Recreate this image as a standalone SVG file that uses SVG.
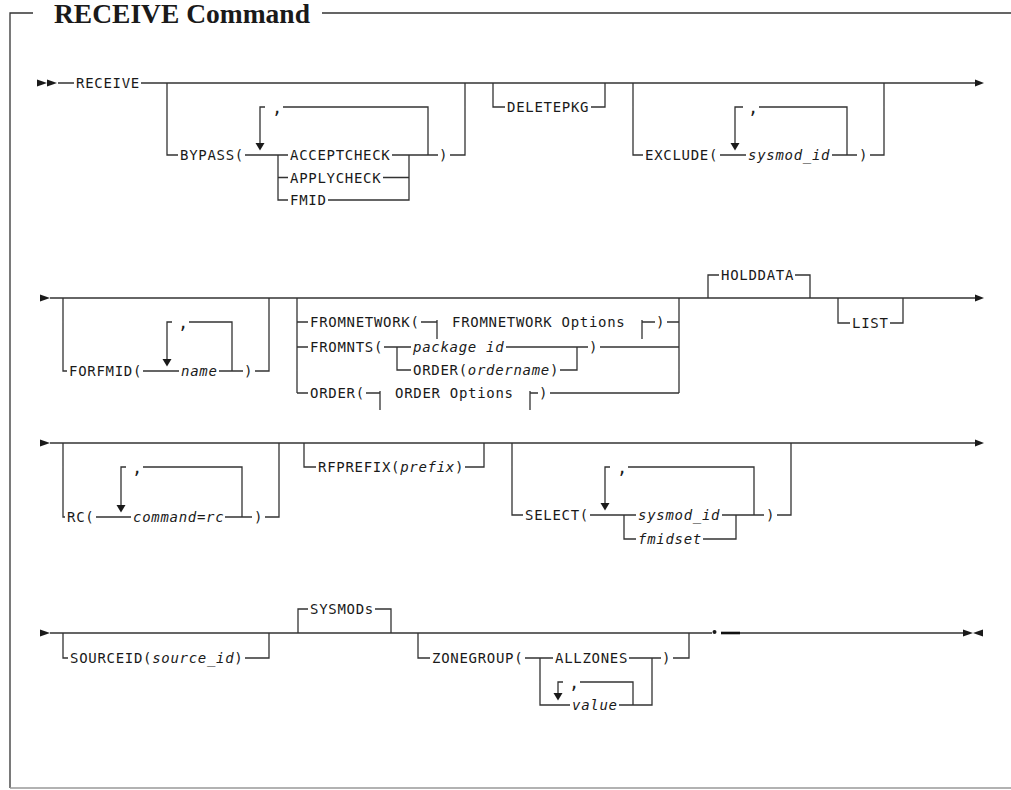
<svg xmlns="http://www.w3.org/2000/svg" width="1011" height="790" viewBox="0 0 1011 790">
<style>
.t{font-family:"DejaVu Sans Mono","Liberation Mono",monospace;font-size:14px;letter-spacing:0.7px;fill:#1a1a1a}
.i{font-style:italic}
.c{font-size:17px}
.ln{stroke:#333;stroke-width:1.3;fill:none}
.ar{fill:#1a1a1a}
.title{font-family:"Liberation Serif","Times New Roman",serif;font-size:27.5px;font-weight:bold;fill:#1a1a1a}
</style>
<rect width="1011" height="790" fill="#fff"/>
<g id="frame">
<path class="ln" d="M10 788 V13 H33 M322 13 H1011"/>
<path d="M10 788 H1011" stroke="#999" stroke-width="1.3"/>
<text class="title" x="54" y="23">RECEIVE Command</text>
</g>
<g id="connectors">
<path class="ln" d="M58 83 H74 M141 83 H975"/>
<polygon class="ar" points="37,79.5 47,83 37,86.5"/>
<polygon class="ar" points="47,79.5 57,83 47,86.5"/>
<polygon class="ar" points="975,79.5 984,83 975,86.5"/>
<path class="ln" d="M167 83 V155 H178 M245 155 H288 M278 155 V200 H288 M278 177.5 H288 M260 143 V107 H265 M283 107 H428 V155 M392 155 H438 M409 155 V200 H328 M409 177.5 H383 M450 155 H465 V83"/>
<polygon class="ar" points="255.5,143 264.5,143 260,150.5"/>
<path class="ln" d="M493 83 V107 H505 M591 107 H605 V83"/>
<path class="ln" d="M633 83 V155 H643 M720 155 H746 M735 143 V107 H743 M759 107 H847 V155 M832 155 H857 M870 155 H884 V83"/>
<polygon class="ar" points="730.5,143 739.5,143 735,150.5"/>
<path class="ln" d="M50 298 H975"/>
<polygon class="ar" points="40,294.5 50,298 40,301.5"/>
<polygon class="ar" points="975,294.5 984,298 975,301.5"/>
<path class="ln" d="M63 298 V371 H67 M143 371 H179 M167 359 V322 H172 M189 322 H232 V371 M219 371 H243 M255 371 H269 V298"/>
<polygon class="ar" points="162.5,359 171.5,359 167,366.5"/>
<path class="ln" d="M297 298 V393 M297 322 H308 M421 322 H437 M437 320 V339 M642 320 V339 M642 322 H655 M667 322 H679 M679 298 V393 M297 347 H308 M384 347 H411 M397 347 V370 H411 M506 347 H588 M577 347 V370 H560 M600 347 H679 M297 393 H308 M366 393 H380 M380 391 V410 M530 391 V410 M530 393 H538 M550 393 H679"/>
<path class="ln" d="M708 298 V275 H719 M795 275 H810 V298 M838 298 V323 H850 M890 323 H903 V298"/>
<path class="ln" d="M50 443 H975"/>
<polygon class="ar" points="40,439.5 50,443 40,446.5"/>
<polygon class="ar" points="975,439.5 984,443 975,446.5"/>
<path class="ln" d="M63 443 V517 H65 M96 517 H131 M121 505 V467 H126 M143 467 H242 V517 M225 517 H252 M265 517 H279 V443"/>
<polygon class="ar" points="116.5,505 125.5,505 121,512.5"/>
<path class="ln" d="M304 443 V467 H316 M465 467 H484 V443"/>
<path class="ln" d="M512 443 V515 H523 M590 515 H636 M605 503 V467 H610 M628 467 H754 V515 M624 515 V539 H636 M722 515 H764 M736 515 V539 H703 M777 515 H791 V443"/>
<polygon class="ar" points="600.5,503 609.5,503 605,510.5"/>
<path class="ln" d="M50 633 H712 M740 633 H963"/>
<path d="M721 633 H740" stroke="#111" stroke-width="2.6"/>
<circle class="ar" cx="714.5" cy="632" r="2"/>
<polygon class="ar" points="40,629.5 50,633 40,636.5"/>
<polygon class="ar" points="963,629.5 973,633 963,636.5"/>
<polygon class="ar" points="983,629.5 973,633 983,636.5"/>
<path class="ln" d="M63 633 V658 H68 M245 658 H269 V633"/>
<path class="ln" d="M298 633 V609 H308 M375 609 H391 V633"/>
<path class="ln" d="M418 633 V658 H430 M525 658 H553 M540 658 V705 H570 M629 658 H661 M652 658 V705 H619 M673 658 H689 V633 M558 693 V682 H563 M580 682 H633 V705"/>
<polygon class="ar" points="553.5,693 562.5,693 558,700.5"/>
</g>
<g id="n-receive"><text class="t" x="76" y="88">RECEIVE</text></g>
<g id="n-bypass">
<text class="t" x="180" y="160">BYPASS(</text>
<text class="t c" x="272" y="114">,</text>
<text class="t" x="290" y="160">ACCEPTCHECK</text>
<text class="t" x="290" y="182.5">APPLYCHECK</text>
<text class="t" x="290" y="205">FMID</text>
<text class="t" x="439" y="160">)</text>
</g>
<g id="n-deletepkg"><text class="t" x="507" y="112">DELETEPKG</text></g>
<g id="n-exclude">
<text class="t" x="645" y="160">EXCLUDE(</text>
<text class="t c" x="748" y="114">,</text>
<text class="t i" x="748" y="160">sysmod_id</text>
<text class="t" x="859" y="160">)</text>
</g>
<g id="n-forfmid">
<text class="t" x="69" y="376">FORFMID(</text>
<text class="t c" x="178" y="329">,</text>
<text class="t i" x="181" y="376">name</text>
<text class="t" x="244" y="376">)</text>
</g>
<g id="n-fromnetwork">
<text class="t" x="310" y="327">FROMNETWORK(</text>
<text class="t" x="452" y="327">FROMNETWORK Options</text>
<text class="t" x="656" y="327">)</text>
</g>
<g id="n-fromnts">
<text class="t" x="310" y="352">FROMNTS(</text>
<text class="t i" x="413" y="352">package id</text>
<text class="t" x="589" y="352">)</text>
<text class="t" x="413" y="375">ORDER(<tspan class="i">ordername</tspan>)</text>
</g>
<g id="n-order">
<text class="t" x="310" y="398">ORDER(</text>
<text class="t" x="395" y="398">ORDER Options</text>
<text class="t" x="539" y="398">)</text>
</g>
<g id="n-holddata"><text class="t" x="721" y="280">HOLDDATA</text></g>
<g id="n-list"><text class="t" x="852" y="328">LIST</text></g>
<g id="n-rc">
<text class="t" x="67" y="522">RC(</text>
<text class="t c" x="132" y="474">,</text>
<text class="t i" x="133" y="522">command=rc</text>
<text class="t" x="254" y="522">)</text>
</g>
<g id="n-rfprefix"><text class="t" x="318" y="472">RFPREFIX(<tspan class="i">prefix</tspan>)</text></g>
<g id="n-select">
<text class="t" x="525" y="520">SELECT(</text>
<text class="t c" x="617" y="474">,</text>
<text class="t i" x="638" y="520">sysmod_id</text>
<text class="t i" x="638" y="544">fmidset</text>
<text class="t" x="766" y="520">)</text>
</g>
<g id="n-sourceid"><text class="t" x="70" y="663">SOURCEID(<tspan class="i">source_id</tspan>)</text></g>
<g id="n-sysmods"><text class="t" x="310" y="614">SYSMODs</text></g>
<g id="n-zonegroup">
<text class="t" x="432" y="663">ZONEGROUP(</text>
<text class="t" x="555" y="663">ALLZONES</text>
<text class="t" x="662" y="663">)</text>
<text class="t c" x="569" y="689">,</text>
<text class="t i" x="572" y="710">value</text>
</g>
</svg>
